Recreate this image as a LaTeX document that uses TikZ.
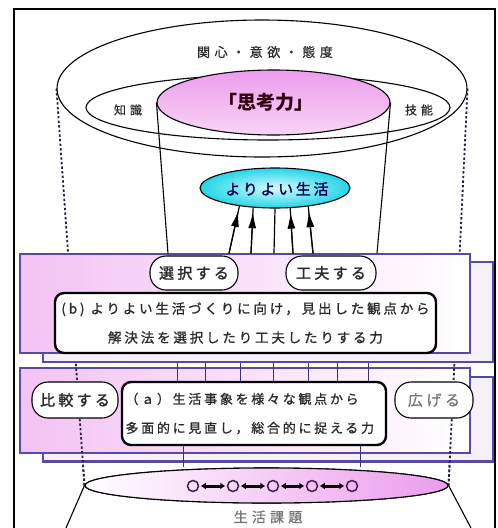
\documentclass[tikz,border=0pt]{standalone}
\usepackage{fontspec}
\newfontfamily\jp{Noto Sans CJK JP}
\usetikzlibrary{shapes.geometric,arrows.meta,calc}
\definecolor{panelline}{HTML}{5848A8}
\definecolor{pinkL}{HTML}{F3C3F3}
\definecolor{pinkT}{HTML}{EC9CEC}
\definecolor{pinkB}{HTML}{F8D4F6}
\definecolor{cyanO}{HTML}{22D6E8}
\definecolor{cyanI}{HTML}{D8FAFF}
\definecolor{txt}{HTML}{2A2A2A}
\definecolor{graytxt}{HTML}{777777}
\definecolor{backfill}{HTML}{F6F0FA}
\definecolor{ringcol}{HTML}{402050}
\definecolor{dotcol}{HTML}{2A2040}
\newcommand{\jpf}[4]{\jp\fontsize{#1}{#2}\selectfont\addfontfeatures{LetterSpace=#3,FakeBold=#4}}
\tikzset{
  oval/.style={ellipse, draw, line width=1.1pt, inner sep=0pt},
  panel/.style={draw=panelline, line width=1.2pt, inner sep=0pt},
  backpanel/.style={panel, fill=backfill},
  frontpanel/.style={panel, left color=pinkL, right color=white},
  pill/.style={draw, line width=1.1pt, fill=white, rounded corners=16pt, inner sep=0pt, text=txt},
  textbox/.style={draw, line width=2.4pt, fill=white, rounded corners=9pt, inner sep=0pt, text=txt},
  headline/.style={line width=1.2pt, -{Latex[length=16pt,width=8pt]}},
  dots/.style={line width=1.8pt, dash pattern=on 2.4pt off 2.2pt, draw=dotcol},
  ring/.style={circle, draw=ringcol, line width=1.5pt, minimum size=11pt, inner sep=0pt},
  dbl/.style={line width=3pt, {Latex[length=5pt,width=7pt]}-{Latex[length=5pt,width=7pt]}, shorten <=1.5pt, shorten >=1.5pt}
}
\begin{document}
\begin{tikzpicture}[x=1pt,y=-1pt]
\useasboundingbox (0,0) rectangle (498,528);
\fill[white] (0,0) rectangle (498,528);
% frame
\draw[line width=1.3pt] (14,528) -- (14,9) -- (495,9) -- (495,528);

% bottom ellipse (ground) placed first for dotted lines
\node[oval, minimum width=363pt, minimum height=35pt] (ground) at (266.5,485.5) {};
\node[oval, minimum width=410pt, minimum height=137pt] (outer) at (262,88.5) {};
\draw[dots] (outer.west) -- (ground.west);
\draw[dots] (outer.east) -- (ground.east);

% top ellipses
\node[oval, minimum width=364pt, minimum height=65pt] (inner) at (268,107.5) {};
\node[oval, minimum width=233pt, minimum height=65pt, top color=pinkT, bottom color=pinkB] (think) at (273.5,102.5) {};
\node[font=\jpf{13}{13}{35}{0.8}, text=txt] (attitude) at (265,52) {関心・意欲・態度};
\node[font=\jpf{12}{12}{33}{0.8}, text=txt] (know) at (128,110) {知識};
\node[font=\jpf{12}{12}{33}{0.8}, text=txt] (skill) at (419,110) {技能};
\node[font=\bfseries\jpf{19}{19}{0}{0}, text=black!75!purple] (thinklabel) at (266,102) {「思考力」};

% panels b
\node[backpanel, minimum width=450pt, minimum height=100pt] (bback) at (268,312) {};
\node[frontpanel, minimum width=450pt, minimum height=99pt] (bfront) at (245,303.5) {};

% cylinder lines
\draw[line width=1.1pt] (think.west) -- ([xshift=-77pt]bfront.north);
\draw[line width=1.1pt] (think.east) -- ([xshift=132pt]bfront.north);

% goal
\coordinate (s1) at ([xshift=-16pt]bfront.north);
\coordinate (s2) at ([xshift=6pt]bfront.north);
\coordinate (s3) at ([xshift=29pt]bfront.north);
\coordinate (s4) at ([xshift=48pt]bfront.north);
\coordinate (s5) at ([xshift=68pt]bfront.north);
\node[ellipse, line width=1.1pt, minimum width=150pt, minimum height=40pt, inner sep=0pt] (goal) at (275,188) {};
\draw[line width=1.2pt] (s1) -- (goal.207);
\draw[line width=1.2pt] (s2) -- (goal.222);
\draw[line width=1.2pt] (s3) -- (goal.270);
\draw[line width=1.2pt] (s4) -- (goal.307);
\draw[line width=1.2pt] (s5) -- (goal.331);
\draw[headline] (s1) -- ($(s1)!0.9!(goal.207)$);
\draw[headline] (s2) -- ($(s2)!0.9!(goal.222)$);
\draw[headline] (s4) -- ($(s4)!0.9!(goal.307)$);
\draw[headline] (s5) -- ($(s5)!0.9!(goal.331)$);
\node[ellipse, draw, line width=1.1pt, minimum width=150pt, minimum height=40pt, inner sep=0pt,
      shading=radial, inner color=cyanI, outer color=cyanO] (goalfill) at (275,188) {};
\node[font=\jpf{15}{15}{18}{1.6}, text=black!70!blue] (goallabel) at (277,189) {よりよい生活};

% b contents
\node[pill, minimum width=88pt, minimum height=34pt, font=\jpf{15}{15}{22}{1.6}] (select) at (194,273) {選択する};
\node[pill, minimum width=90pt, minimum height=34pt, font=\jpf{15}{15}{22}{1.6}] (devise) at (331,273) {工夫する};
\node[textbox, minimum width=381pt, minimum height=60pt, align=center, font=\jpf{13.5}{29}{21}{1}] (bbox) at (245.5,323) {(b) よりよい生活づくりに向け，見出した観点から\\解決法を選択したり工夫したりする力};

% panels a
\node[backpanel, minimum width=450pt, minimum height=84pt] (aback) at (268,419) {};
\draw[panelline, line width=2.6pt] (aback.south west) -- (aback.south east);
\node[frontpanel, minimum width=450pt, minimum height=85pt] (afront) at (245,410.5) {};

% dotted lines visible across panel a
\draw[dots] ($(outer.west)!0.705!(ground.west)$) -- (ground.west);
\draw[dots] ($(outer.east)!0.705!(ground.east)$) -- (ground.east);

% connector lines between b and a
\coordinate (acenter) at (254,382);
\foreach \dx in {-77,-49,-14,19,54,83,114}{
  \draw[line width=0.9pt, panelline!70!black] ([xshift=\dx pt]acenter) -- ([xshift=\dx pt]acenter |- bback.south);
}

% a contents
\node[textbox, minimum width=264pt, minimum height=63pt, text width=257pt, inner xsep=3.5pt, align=left, font=\jpf{13}{29}{21}{1}] (abox) at (254,413.5) {（ａ）生活事象を様々な観点から\\ 多面的に見直し，総合的に捉える力};
\node[pill, minimum width=86pt, minimum height=36pt, font=\jpf{15}{15}{22}{1.6}] (compare) at (75,400) {比較する};
\node[pill, minimum width=78pt, minimum height=36pt, text=graytxt, font=\jpf{15}{15}{24}{0.8}] (widen) at (434,400) {広げる};

% ground ellipse fill
\node[oval, minimum width=363pt, minimum height=35pt, left color=white, right color=pinkT] (ground2) at (266.5,485.5) {};
\draw[line width=0.9pt, panelline!70!black] ([xshift=-71pt]abox.south) -- ([xshift=-71pt]abox.south |- ground2.north);
\draw[line width=0.9pt, panelline!70!black] ([xshift=106pt]abox.south) -- ([xshift=106pt]abox.south |- ground2.north);

% rings
\node[ring] (r1) at (193,486) {};
\node[ring] (r2) at (233,486) {};
\node[ring] (r3) at (273,486) {};
\node[ring] (r4) at (312,486) {};
\node[ring] (r5) at (352,486) {};
\draw[dbl] (r1) -- (r2);
\draw[dbl] (r2) -- (r3);
\draw[dbl] (r3) -- (r4);
\draw[dbl] (r4) -- (r5);

% lower diagonal lines
\coordinate (ll) at (66,528);
\coordinate (lr) at (471,528);
\draw[line width=1.1pt] (ground2.west) -- (ll);
\draw[line width=1.1pt] (ground2.east) -- (lr);
\node[font=\jpf{14}{14}{30}{0.8}, text=graytxt] (issue) at (268,517) {生活課題};
\end{tikzpicture}
\end{document}
